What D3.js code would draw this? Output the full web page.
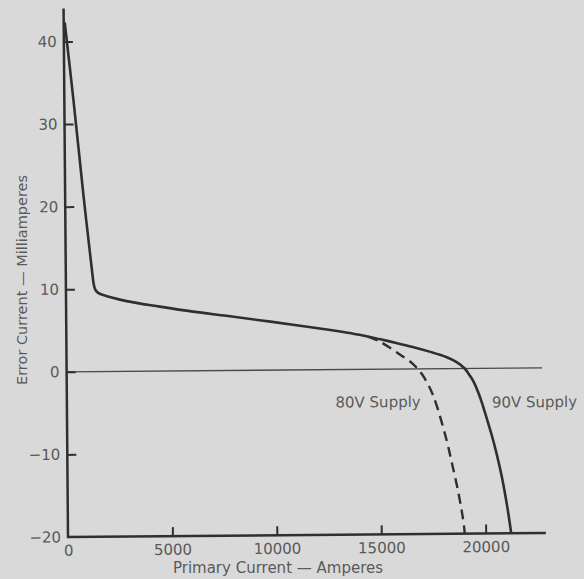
<!DOCTYPE html>
<html>
<head>
<meta charset="utf-8">
<script src="https://cdn.jsdelivr.net/npm/d3@7"></script>
<style>
  html, body { margin: 0; padding: 0; background: #d9d9d9; }
  svg { display: block; }
  text { font-family: "DejaVu Sans", sans-serif; fill: #5a5a5a; }
</style>
</head>
<body>
<svg id="chart" width="584" height="579"></svg>
<script>
// Primary current (A) vs error current (mA)
const supply90 = [
  [50, 42.3], [440, 32.8], [880, 21.3], [1270, 11.9], [1340, 10.5], [1420, 9.85],
  [1560, 9.5], [1750, 9.3], [2900, 8.5], [4490, 7.8], [6080, 7.16], [7670, 6.62],
  [9260, 6.06], [10850, 5.48], [12640, 4.8], [13400, 4.48], [14200, 4.1],
  [14990, 3.65], [15790, 3.17], [16580, 2.66], [17380, 2.08], [18180, 1.41],
  [18660, 0.8], [19060, 0.0], [19300, -0.85], [19480, -1.6], [19720, -3.05],
  [19870, -4.15], [20100, -6.1], [20340, -8.2], [20560, -10.4], [20800, -13.2],
  [21020, -16.4], [21170, -19.0], [21220, -20]
];
const supply80 = [
  [14450, 3.96], [15000, 3.35], [15790, 2.07], [16580, 0.62], [17000, -0.6],
  [17380, -2.3], [17660, -4.1], [18150, -8.5], [18460, -12.0], [18700, -14.9],
  [18860, -17.2], [18970, -19.2], [19000, -20]
];
const xTicks = [0, 5000, 10000, 15000, 20000];
const yTicks = [-20, -10, 0, 10, 20, 30, 40];
const seriesLabels = ["80V Supply", "90V Supply"];
const labelAt = [[14900, -4.6], [22390, -4.75]]; // label centre (amperes, mA)
const xTitle = "Primary Current \u2014 Amperes";
const yTitle = "Error Current \u2014 Milliamperes";

const svg = d3.select("#chart");
const x = d3.scaleLinear().domain([0, 20000]).range([68, 485.7]);
const y = d3.scaleLinear().domain([-20, 40]).range([537, 41.5]);
const ink = "#2f2f2f";

// the printed figure sits very slightly tilted on the page
const g = svg.append("g").attr("transform", `rotate(-0.48, ${x(0)}, ${y(-20)})`);

// zero reference line
g.append("line")
  .attr("x1", x(0)).attr("x2", x(22770))
  .attr("y1", y(0)).attr("y2", y(0))
  .attr("stroke", "#4a4a4a").attr("stroke-width", 1.3);

// axes
const fmt = d => d < 0 ? "\u2212" + Math.abs(d) : String(d);
const yAxis = d3.axisLeft(y).tickValues(yTicks).tickFormat(fmt)
  .tickSizeInner(-9).tickSizeOuter(0).tickPadding(7);
const xAxis = d3.axisBottom(x).tickValues(xTicks).tickFormat(d => String(d))
  .tickSizeInner(-9).tickSizeOuter(0).tickPadding(8);

const gy = g.append("g").attr("transform", `translate(${x(0)},0)`).call(yAxis);
const gx = g.append("g").attr("transform", `translate(0,${y(-20)})`).call(xAxis);

[gx, gy].forEach(a => {
  a.select(".domain").remove();
  a.selectAll(".tick line").attr("stroke", ink).attr("stroke-width", 2);
  a.selectAll(".tick text").attr("fill", "#5a5a5a")
    .style("font-family", "'DejaVu Sans', sans-serif").style("font-size", "15px");
});
gx.selectAll(".tick").filter(d => d === 0).select("line").remove();
gy.selectAll(".tick").filter(d => d === -20).select("line").remove();

// axis lines
g.append("line").attr("x1", x(0)).attr("x2", x(0))
  .attr("y1", y(44.0)).attr("y2", y(-20) + 1)
  .attr("stroke", ink).attr("stroke-width", 2.5);
g.append("line").attr("x1", x(0) - 1).attr("x2", x(22880))
  .attr("y1", y(-20)).attr("y2", y(-20))
  .attr("stroke", ink).attr("stroke-width", 2.5);

// curves
const line = d3.line().x(d => x(d[0])).y(d => y(d[1])).curve(d3.curveCatmullRom.alpha(0.5));
g.append("path").datum(supply90).attr("d", line)
  .attr("fill", "none").attr("stroke", ink).attr("stroke-width", 2.6)
  .attr("stroke-linejoin", "round");
g.append("path").datum(supply80).attr("d", line)
  .attr("fill", "none").attr("stroke", ink).attr("stroke-width", 2.4)
  .attr("stroke-dasharray", "10,6");

// series labels
seriesLabels.forEach((t, i) => {
  g.append("text").attr("x", x(labelAt[i][0])).attr("y", y(labelAt[i][1]))
    .attr("text-anchor", "middle").style("font-size", "15px").text(t);
});

// axis titles
svg.append("text").attr("x", 278).attr("y", 573).attr("text-anchor", "middle")
  .style("font-size", "15px").text(xTitle);
svg.append("text").attr("transform", "translate(27,280) rotate(-90)")
  .attr("text-anchor", "middle").style("font-size", "14.5px").text(yTitle);
</script>
</body>
</html>
